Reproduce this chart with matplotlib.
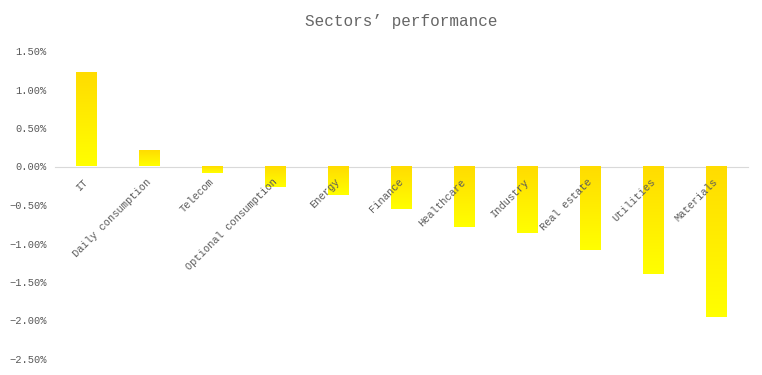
import numpy as np
import matplotlib.pyplot as plt
from matplotlib.colors import LinearSegmentedColormap
from matplotlib.ticker import FuncFormatter

sectors = ['IT', 'Daily consumption', 'Telecom', 'Optional consumption', 'Energy',
           'Finance', 'Healthcare', 'Industry', 'Real estate', 'Utilities', 'Materials']
change = [1.22, 0.20, -0.08, -0.27, -0.37, -0.55, -0.78, -0.86, -1.09, -1.40, -1.96]
yticks = [1.5, 1.0, 0.5, 0.0, -0.5, -1.0, -1.5, -2.0, -2.5]

plt.rcParams['font.family'] = ['Liberation Mono', 'DejaVu Sans Mono']

fig = plt.figure(figsize=(7.62, 3.75), dpi=100)
ax = fig.add_axes([55 / 762, 16 / 375, 693 / 762, 308 / 375])

x = np.arange(len(sectors))
bars = ax.bar(x, change, width=0.32, color='none', edgecolor='none')

# top-to-bottom gold -> yellow gradient inside each bar
cmap = LinearSegmentedColormap.from_list('gy', ['#ffdc00', '#ffff00'])
grad = np.linspace(0, 1, 256).reshape(-1, 1)
for b in bars:
    x0, y0 = b.get_x(), b.get_y()
    x1, y1 = x0 + b.get_width(), y0 + b.get_height()
    lo, hi = min(y0, y1), max(y0, y1)
    ax.imshow(grad, extent=[x0, x1, lo, hi], cmap=cmap, aspect='auto',
              origin='upper', zorder=1.5, interpolation='bilinear')

ax.set_xlim(-0.5, len(sectors) - 0.5)
ax.set_ylim(-2.5, 1.5)

for s in ['top', 'right', 'left']:
    ax.spines[s].set_visible(False)
ax.spines['bottom'].set_position(('data', 0))
ax.spines['bottom'].set_color('#d9d9d9')
ax.spines['bottom'].set_zorder(1)

ax.set_yticks(yticks)
ax.yaxis.set_major_formatter(FuncFormatter(lambda v, p: f'{v:.2f}%'.replace('-', '\u2212')))
ax.tick_params(axis='y', length=0, pad=6, labelsize=7.5, labelcolor='#595959')

ax.set_xticks(x)
ax.set_xticklabels(sectors, rotation=45, ha='right', va='center',
                   rotation_mode='anchor', fontsize=7.5, color='#5a5a5a')
ax.tick_params(axis='x', length=0, pad=10)

ax.set_title("Sectors\u2019 performance", fontsize=11.5, color='#666666', pad=18)

fig.savefig('out.png', dpi=100)
